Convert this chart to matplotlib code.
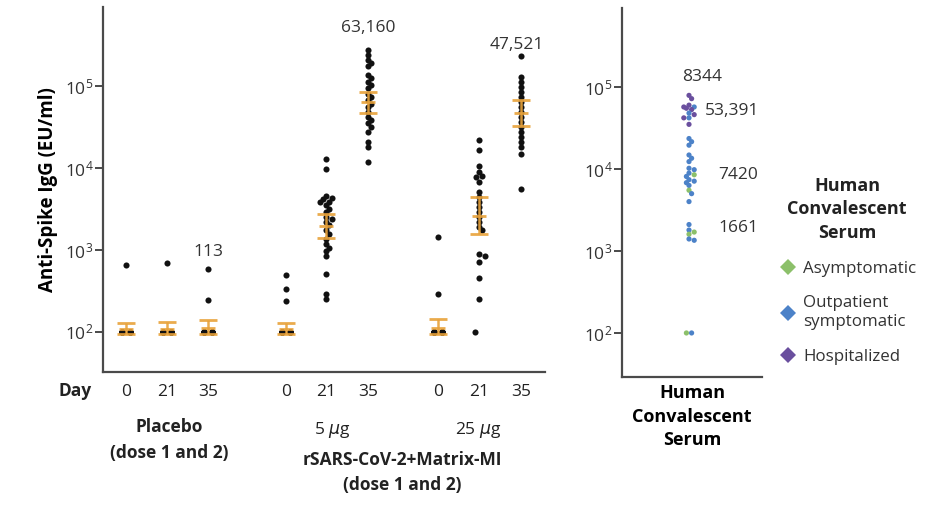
import numpy as np
import matplotlib
matplotlib.use("Agg")
import matplotlib.pyplot as plt
from matplotlib.lines import Line2D

plt.rcParams['font.family'] = ['Open Sans', 'DejaVu Sans']
plt.rcParams['mathtext.default'] = 'regular'
plt.rcParams['text.color'] = '#222222'

# ---------------- data ----------------
day_labels = ['0', '21', '35', '0', '21', '35', '0', '21', '35']
floor_value = 100

placebo_d0 = [650] + [100] * 22
placebo_d21 = [700] + [100] * 22
placebo_d35 = [590, 245] + [100] * 21
ug5_d0 = [500, 335, 240] + [100] * 22
ug5_d21 = [12900, 9800, 4600, 4300, 4200, 3900, 3800, 3500, 3170, 2880, 2500, 2400,
           2180, 1990, 1730, 1580, 1360, 1180, 1070, 980, 850, 510, 290, 250]
ug5_d35 = [275000, 240000, 210000, 190000, 174000, 136000, 124000, 113000, 103000,
           94000, 81000, 74000, 67000, 61000, 56000, 48500, 42000, 38300, 35000,
           32000, 27500, 21000, 18300, 11800]
ug25_d0 = [1420, 290] + [100] * 23
ug25_d21 = [22300, 16500, 10700, 8900, 8100, 7700, 6700, 5050, 4400, 3800, 3300,
            2880, 2500, 2180, 1900, 1730, 895, 850, 705, 460, 250, 100]
ug25_d35 = [230000, 129000, 113000, 98000, 85000, 74000, 64000, 56000, 48500,
            42000, 36500, 32000, 27500, 24000, 21000, 18300, 14900, 5600]

groups = [placebo_d0, placebo_d21, placebo_d35, ug5_d0, ug5_d21, ug5_d35,
          ug25_d0, ug25_d21, ug25_d35]

gmt = [108, 108, 113, 108, 1950, 63160, 110, 2600, 47521]
ci_low = [93, 93, 95, 93, 1410, 47000, 93, 1580, 33000]
ci_high = [130, 131, 139, 128, 2760, 85000, 143, 4400, 67000]

gmt_labels = {2: '113', 5: '63,160', 8: '47,521'}

hcs_asymptomatic = [8500, 5500, 1700, 1600, 100]
hcs_outpatient = [57000, 48000, 42000, 23500, 21500, 19500, 14800, 13500, 12300,
                  10200, 9800, 8900, 8100, 7400, 7100, 6800, 6300, 5000, 4000,
                  2100, 1800, 1400, 1350, 100]
hcs_hospitalized = [79000, 72000, 60000, 57000, 55000, 53000, 46000, 42000, 35000]
hcs_labels = ['8344', '53,391', '7420', '1661']

# ---------------- layout ----------------
W, H = 926, 508
fig = plt.figure(figsize=(W / 100, H / 100), dpi=100)

def fx(px):
    return px / W

def fy(py):
    return 1 - py / H

positions = [23, 64, 105, 183, 223, 265, 335, 376, 418]

ax = fig.add_axes([fx(103), fy(372), fx(545) - fx(103), fy(7) - fy(372)])
ax2 = fig.add_axes([fx(622), fy(377), fx(762) - fx(622), fy(8) - fy(377)])

spine_c = '#4a4a4a'
for a in (ax, ax2):
    a.set_yscale('log')
    for s in ('top', 'right'):
        a.spines[s].set_visible(False)
    for s in ('left', 'bottom'):
        a.spines[s].set_color(spine_c)
        a.spines[s].set_linewidth(1.6)
    a.set_yticks([1e2, 1e3, 1e4, 1e5])
    a.set_yticklabels(['$10^{2}$', '$10^{3}$', '$10^{4}$', '$10^{5}$'])
    a.yaxis.set_minor_locator(matplotlib.ticker.NullLocator())
    a.tick_params(axis='y', length=6, width=1.4, color=spine_c, labelsize=12.5,
                  labelcolor='#333333', pad=1)

ax.set_xlim(0, 442)
ax.set_ylim(10 ** 1.51, 10 ** 5.966)
ax2.set_xlim(0, 140)
ax2.set_ylim(10 ** 1.463, 10 ** 5.963)


def swarm(a, x0, vals, diam, floor_off=0.65):
    """Deterministic compact beeswarm offsets in display pixels."""
    tr = a.transData
    inv = tr.inverted()
    placed = []
    xs = []
    for i, v in enumerate(vals):
        X0, Y = tr.transform((x0, v))
        if v <= floor_value:
            cands = [-floor_off * diam, floor_off * diam]
        else:
            step = 0.5 * diam
            cands = [0, step, -step, 2 * step, -2 * step]
        chosen = None
        for c in cands:
            if all(np.hypot(X0 + c - px, Y - py) >= 0.7 * diam for px, py in placed):
                chosen = c
                break
        if chosen is None:
            chosen = cands[i % len(cands)] if v <= floor_value else cands[i % 3]
        placed.append((X0 + chosen, Y))
        xs.append(inv.transform((X0 + chosen, Y))[0])
    return xs


orange = '#E8A23A'
for pos, vals, g, lo, hi in zip(positions, groups, gmt, ci_low, ci_high):
    xs = swarm(ax, pos, vals, 6.2)
    ax.plot(xs, vals, 'o', color='#111111', markersize=4.4, markeredgewidth=0,
            zorder=2, clip_on=False)
    ax.errorbar([pos], [g], yerr=[[g - lo], [hi - g]], fmt='_', color=orange,
                ecolor=orange, elinewidth=1.8, capsize=6.5, capthick=2.0,
                markersize=10, markeredgewidth=2.0, zorder=3, alpha=0.9)

ax.set_xticks(positions)
ax.set_xticklabels(day_labels)
ax.tick_params(axis='x', length=0, pad=9, labelsize=12.5, labelcolor='#222222')
ax.set_ylabel('Anti-Spike IgG (EU/ml)', fontsize=13.5, fontweight='bold', labelpad=5)

ann_y = {2: 252, 5: 28, 8: 45}
ann_x = {2: 208, 5: 368, 8: 517}
for k, t in gmt_labels.items():
    fig.text(fx(ann_x[k]), fy(ann_y[k]), t, ha='center', va='center', fontsize=12.5,
             color='#333333')

fig.text(fx(75), fy(391), 'Day', ha='center', va='center', fontsize=12.5, fontweight='bold')
fig.text(fx(169), fy(427), 'Placebo', ha='center', va='center', fontsize=12.5, fontweight='bold')
fig.text(fx(169), fy(453), '(dose 1 and 2)', ha='center', va='center', fontsize=12.5,
         fontweight='bold')
fig.text(fx(332), fy(430), '5 $\\mathit{\\mu}$g', ha='center', va='center', fontsize=12.5)
fig.text(fx(478), fy(430), '25 $\\mathit{\\mu}$g', ha='center', va='center', fontsize=12.5)
fig.text(fx(402), fy(460), 'rSARS-CoV-2+Matrix-MI', ha='center', va='center', fontsize=12.5,
         fontweight='bold')
fig.text(fx(402), fy(485), '(dose 1 and 2)', ha='center', va='center', fontsize=12.5,
         fontweight='bold')

# ---------------- convalescent panel ----------------
c_asym = '#8CC06A'
c_out = '#4C82C8'
c_hosp = '#6A4F9E'
all_vals = hcs_hospitalized + hcs_outpatient + hcs_asymptomatic
all_cols = [c_hosp] * len(hcs_hospitalized) + [c_out] * len(hcs_outpatient) + \
    [c_asym] * len(hcs_asymptomatic)
order = np.argsort(all_vals, kind='stable')[::-1]
sv = [all_vals[i] for i in order]
sc = [all_cols[i] for i in order]
xs2 = swarm(ax2, 67, sv, 5.2, floor_off=0.5)
ax2.scatter(xs2, sv, s=14, c=sc, linewidths=0, zorder=2, clip_on=False)

ax2.set_xticks([])
ax2.set_xlabel('Human\nConvalescent\nSerum', fontsize=13, fontweight='bold',
               linespacing=1.4, labelpad=5)
ax2.xaxis.label.set_position((70 / 140, 0))

hcs_pos = [(702, 77), (732, 111), (738, 175), (738, 228)]
for t, (px, py) in zip(hcs_labels, hcs_pos):
    fig.text(fx(px), fy(py), t, ha='center', va='center', fontsize=12.5, color='#333333')

handles = [Line2D([], [], marker='D', linestyle='none', color=c, markersize=8.5,
                  markeredgewidth=0) for c in (c_asym, c_out, c_hosp)]
leg = fig.legend(handles, ['Asymptomatic', 'Outpatient\nsymptomatic', 'Hospitalized'],
                 title='Human\nConvalescent\nSerum', loc='upper left',
                 bbox_to_anchor=(fx(771), fy(170)), frameon=False, fontsize=12.2,
                 title_fontproperties={'weight': 'bold', 'size': 13},
                 handletextpad=0.3, labelspacing=1.1, handlelength=1.2,
                 alignment='center', borderaxespad=0)
leg.get_title().set_multialignment('center')
leg.get_title().set_linespacing(1.4)
for t in leg.get_texts():
    t.set_color('#333333')
    t.set_linespacing(1.25)

fig.savefig('out.png', dpi=100)
